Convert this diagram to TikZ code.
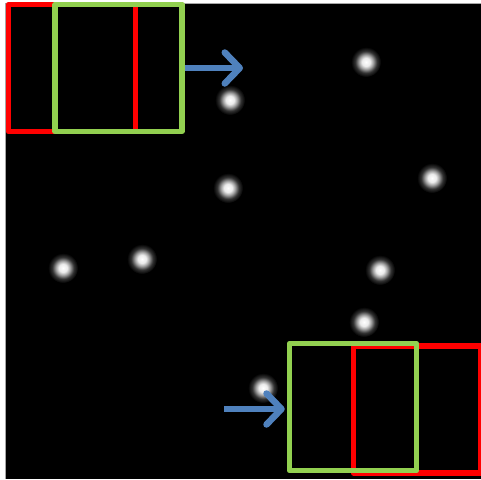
\documentclass[tikz,border=0pt]{standalone}
\usepackage{tikz}
\usepackage{xcolor}
\usetikzlibrary{positioning, arrows.meta, calc}
\definecolor{winRed}{HTML}{FF0000}
\definecolor{winGreen}{HTML}{92D050}
\definecolor{moveBlue}{HTML}{4F81BD}
\pgfdeclareradialshading{glow}{\pgfpoint{0bp}{0bp}}{%
  color(0bp)=(white); color(7bp)=(white!92!black); color(12bp)=(white!62!black);
  color(18bp)=(white!20!black); color(25bp)=(black); color(50bp)=(black)}

\tikzset{
  win/.style={draw, line width=5.5pt, line join=round, minimum width=127pt,
    minimum height=127pt, inner sep=0pt},
  spot/.style={circle, minimum size=30pt, inner sep=0pt, shading=glow},
  move/.style={draw=moveBlue, line width=6.5pt,
    -{Straight Barb[length=15pt, width=31pt, round]}}
}

\begin{document}
\begin{tikzpicture}[x=1pt, y=-1pt]
  \useasboundingbox (0,0) rectangle (481,479);
  \fill[black] (5,3) rectangle (481,479);
  \draw[gray!70, line width=0.8pt] (5,479) -- (5,3) -- (481,3);
  % bright spots
  \foreach \n/\x/\y in {a/366/62, b/230/100, c/228/188, d/432/178, e/63/268,
                        f/142/259, g/380/270, h/364/322, i/263/388}
    \node[spot] (spot-\n) at (\x,\y) {};
  % window before and after the shift
  \node[win, draw=winRed] (oldA) at (72,68) {};
  \node[win, draw=winGreen] (newA) at (118.5,68) {};
  \node[win, draw=winRed] (oldB) at (417,409.5) {};
  \node[win, draw=winGreen] (newB) at (353,407) {};
  \coordinate (tipA) at (243,68);
  \coordinate (tailB) at (224,409);
  \draw[move] (newA.east) -- (tipA);
  \draw[move] (tailB) -- ([xshift=-2pt]tailB -| newB.west);
\end{tikzpicture}
\end{document}
